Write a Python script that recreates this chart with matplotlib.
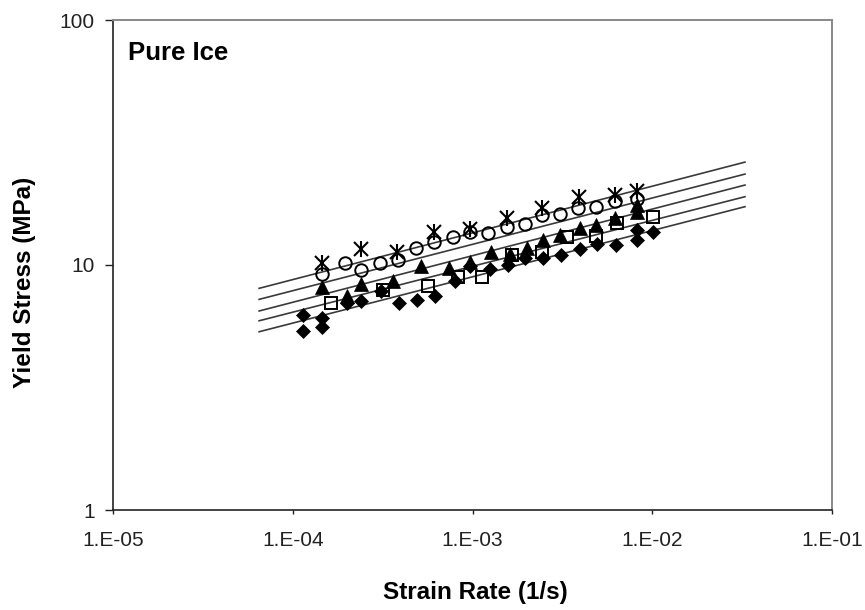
import matplotlib
matplotlib.use("Agg")
import matplotlib.pyplot as plt

plt.rcParams['font.family'] = ['Liberation Sans', 'DejaVu Sans']

# ---- data ----
star_x = [1.45e-4, 2.4e-4, 3.8e-4, 6.1e-4, 9.7e-4, 1.56e-3, 2.44e-3, 3.92e-3, 6.2e-3, 8.2e-3]
star_y = [10.2, 11.6, 11.3, 13.6, 14.0, 15.6, 17.1, 18.9, 19.3, 20.0]

circ_x = [1.45e-4, 1.95e-4, 2.4e-4, 3.06e-4, 3.85e-4, 4.85e-4, 6.1e-4, 7.8e-4, 9.7e-4,
          1.22e-3, 1.56e-3, 1.96e-3, 2.44e-3, 3.07e-3, 3.86e-3, 4.87e-3, 6.2e-3, 8.2e-3]
circ_y = [9.2, 10.2, 9.5, 10.2, 10.5, 11.7, 12.4, 13.0, 13.7,
          13.5, 14.3, 14.7, 16.0, 16.2, 17.1, 17.2, 18.2, 18.6]

tri_x = [1.45e-4, 2.0e-4, 2.4e-4, 3.61e-4, 5.2e-4, 7.4e-4, 9.7e-4, 1.27e-3, 1.62e-3,
         2.0e-3, 2.46e-3, 3.07e-3, 3.95e-3, 4.87e-3, 6.2e-3, 8.2e-3, 8.2e-3]
tri_y = [8.1, 7.5, 8.4, 8.6, 9.9, 9.7, 10.3, 11.3, 11.1,
         11.7, 12.6, 13.2, 14.2, 14.6, 15.6, 16.5, 17.6]

sq_x = [1.63e-4, 3.18e-4, 5.65e-4, 8.3e-4, 1.13e-3, 1.66e-3, 2.44e-3, 3.36e-3, 4.87e-3, 6.4e-3, 1.01e-2]
sq_y = [7.0, 7.9, 8.2, 8.9, 8.9, 11.0, 11.3, 13.0, 13.1, 14.8, 15.7]

dia_x = [1.14e-4, 1.14e-4, 1.45e-4, 1.45e-4, 2.0e-4, 2.4e-4, 3.1e-4, 3.9e-4, 4.9e-4, 6.2e-4,
         8.0e-4, 9.7e-4, 1.25e-3, 1.58e-3, 1.96e-3, 2.46e-3, 3.1e-3, 3.95e-3, 4.9e-3, 6.3e-3,
         8.2e-3, 8.2e-3, 1.01e-2]
dia_y = [6.25, 5.4, 6.1, 5.6, 7.0, 7.1, 7.8, 7.0, 7.2, 7.5,
         8.6, 9.9, 9.6, 10.0, 10.7, 10.7, 11.0, 11.6, 12.2, 12.1,
         12.6, 13.9, 13.6]

# fitted power-law lines (end points)
fit_x = [6.5e-5, 3.28e-2]
fit_star = [8.03, 26.3]
fit_circ = [7.24, 23.5]
fit_tri = [6.49, 21.2]
fit_sq = [5.92, 19.0]
fit_dia = [5.34, 17.3]

xticks = [1e-5, 1e-4, 1e-3, 1e-2, 1e-1]
xtick_labels = ['1.E-05', '1.E-04', '1.E-03', '1.E-02', '1.E-01']
yticks = [1, 10, 100]
ytick_labels = ['1', '10', '100']

# ---- figure ----
fig = plt.figure(figsize=(8.65, 6.10), dpi=100)
ax = fig.add_axes([113/865, 1-510/610, (832-113)/865, (510-20)/610])
ax.set_xscale('log')
ax.set_yscale('log')
ax.set_xlim(1e-5, 1e-1)
ax.set_ylim(1, 100)

for fy in (fit_star, fit_circ, fit_tri, fit_sq, fit_dia):
    ax.plot(fit_x, fy, color='#3a3a3a', lw=1.2, zorder=2)

ax.plot(sq_x, sq_y, 's', ms=8.8, mfc='none', mec='black', mew=1.4, zorder=3)
ax.plot(dia_x, dia_y, 'D', ms=7.6, mfc='black', mec='black', mew=0.5, zorder=3)
ax.plot(tri_x, tri_y, '^', ms=9.8, mfc='black', mec='black', mew=0.5, zorder=4)
ax.plot(circ_x, circ_y, 'o', ms=9.0, mfc='none', mec='black', mew=1.4, zorder=5)
ax.plot(star_x, star_y, 'x', ms=9.5, mec='black', mew=1.5, zorder=6)
ax.plot(star_x, star_y, '|', ms=11, mec='black', mew=1.5, zorder=6)

ax.set_xticks(xticks, labels=xtick_labels)
ax.set_yticks(yticks, labels=ytick_labels)
ax.minorticks_off()
ax.tick_params(axis='x', direction='out', length=3, width=1, pad=12, labelsize=15, colors='#222222')
ax.tick_params(axis='y', direction='out', length=6, width=1, pad=7, labelsize=15, colors='#222222')

for s in ('left', 'bottom'):
    ax.spines[s].set_color('#222222')
    ax.spines[s].set_linewidth(1.2)
for s in ('top', 'right'):
    ax.spines[s].set_color('#888888')
    ax.spines[s].set_linewidth(1.4)

fig.text(128/865, 1-53/610, 'Pure Ice', fontsize=18.5, fontweight='bold', va='center', ha='left')

fig.text(475/865, 1-593/610, 'Strain Rate (1/s)', fontsize=17.5, fontweight='bold', ha='center', va='center')
fig.text(25/865, 1-282/610, 'Yield Stress (MPa)', fontsize=17.5, fontweight='bold', ha='center', va='center',
         rotation=90)

fig.savefig('out.png', dpi=100)
